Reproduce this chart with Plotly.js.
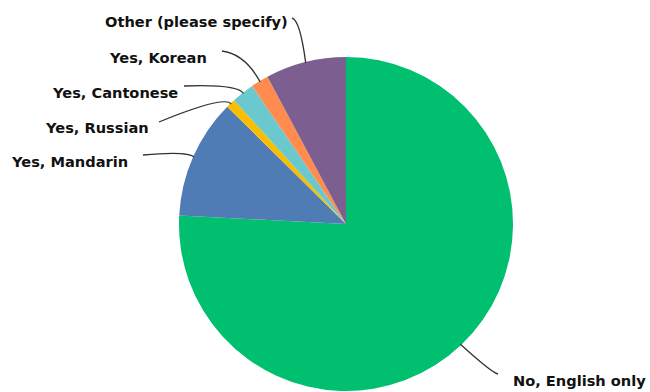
<!DOCTYPE html>
<html>
<head>
<meta charset="utf-8">
<script src="https://cdn.plot.ly/plotly-3.0.1.min.js"></script>
<style>
  html, body { margin: 0; padding: 0; background: #ffffff; }
  #chart { width: 650px; height: 392px; }
</style>
</head>
<body>
<div id="chart"></div>
<script>
// Responses: does the household speak a language other than English?
const categories = [
  "No, English only",
  "Yes, Mandarin",
  "Yes, Russian",
  "Yes, Cantonese",
  "Yes, Korean",
  "Other (please specify)"
];
const shares = [75.8, 11.6, 0.9, 2.2, 1.7, 7.8];
const sliceColors = ["#00bf6f", "#507cb6", "#f9be00", "#6bc8cd", "#ff8b4f", "#7d5e90"];

// Canvas and pie geometry (pixels)
const W = 650, H = 392;
const CX = 346, CY = 224, R = 167;

// Label placement: text anchor, side, leader start and bend control
const labelPlacement = [
  { tx: 511, ty: 380, side: "left",  sx: 498, sy: 374, kx: 492, ky: 373 },
  { tx: 130, ty: 161, side: "right", sx: 143, sy: 155, kx: 188, ky: 151 },
  { tx: 151, ty: 127, side: "right", sx: 159, sy: 122, kx: 225, ky: 95 },
  { tx: 180, ty: 92,  side: "right", sx: 184, sy: 86,  kx: 238, ky: 84 },
  { tx: 209, ty: 57,  side: "right", sx: 222, sy: 51,  kx: 245, ky: 54 },
  { tx: 290, ty: 21,  side: "right", sx: 292, sy: 18,  kx: 300, ky: 20 }
];

const px = x => x / W;
const py = y => 1 - y / H;

// Mid-angle of each slice, clockwise from 12 o'clock
const total = shares.reduce((a, b) => a + b, 0);
let acc = 0;
const midAngles = shares.map(v => {
  const mid = (acc + v / 2) / total * 2 * Math.PI;
  acc += v;
  return mid;
});

const shapes = [];
const annotations = [];
categories.forEach((name, i) => {
  const p = labelPlacement[i];
  const a = midAngles[i];
  const ex = CX + (R - 1) * Math.sin(a);
  const ey = CY - (R - 1) * Math.cos(a);
  shapes.push({
    type: "path",
    xref: "paper", yref: "paper",
    path: `M ${px(p.sx)},${py(p.sy)} Q ${px(p.kx)},${py(p.ky)} ${px(ex)},${py(ey)}`,
    line: { color: "#333333", width: 1.3 }
  });
  annotations.push({
    xref: "paper", yref: "paper",
    x: px(p.tx), y: py(p.ty),
    xanchor: p.side, yanchor: "middle",
    text: name,
    showarrow: false,
    font: { family: "DejaVu Sans", size: 14.6, color: "#111111", weight: "bold" }
  });
});

const data = [{
  type: "pie",
  labels: categories,
  values: shares,
  sort: false,
  direction: "clockwise",
  rotation: 0,
  textinfo: "none",
  hoverinfo: "label+percent",
  marker: { colors: sliceColors, line: { width: 0 } },
  domain: {
    x: [px(CX - R), px(CX + R)],
    y: [py(CY + R), py(CY - R)]
  },
  showlegend: false
}];

const layout = {
  width: W, height: H,
  margin: { l: 0, r: 0, t: 0, b: 0 },
  paper_bgcolor: "#ffffff",
  showlegend: false,
  shapes: shapes,
  annotations: annotations
};

Plotly.newPlot("chart", data, layout, { displayModeBar: false, staticPlot: true });
</script>
</body>
</html>
